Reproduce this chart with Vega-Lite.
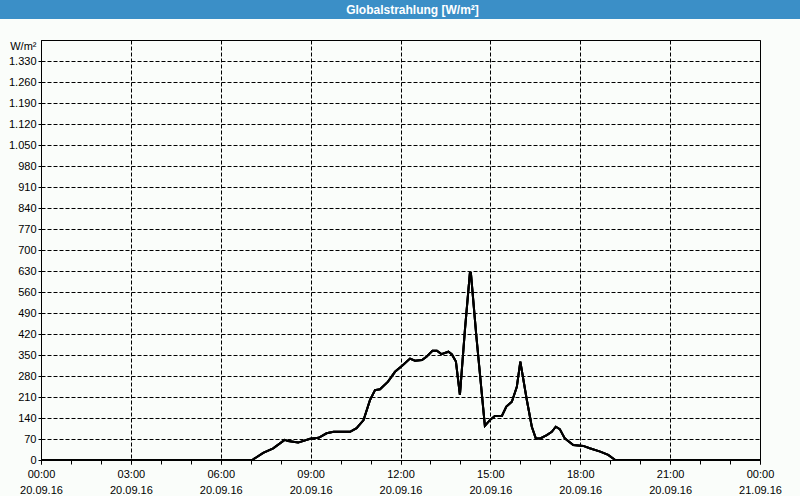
{
  "$schema": "https://vega.github.io/schema/vega-lite/v6.json",
  "background": "#fafdfa",
  "padding": 0,
  "spacing": {"row": 21, "column": 0},
  "columns": 2,
  "align": "each",
  "bounds": "flush",
  "config": {
    "font": "Liberation Sans",
    "view": {"stroke": null},
    "locale": {"number": {"decimal": ",", "thousands": ".", "grouping": [3], "currency": ["", " €"]}}
  },
  "datasets": {
    "strahlung": [
      {"zeit": "2016-09-20T00:00:00Z", "wert": 0},
      {"zeit": "2016-09-20T07:03:00Z", "wert": 0},
      {"zeit": "2016-09-20T07:25:00Z", "wert": 24},
      {"zeit": "2016-09-20T07:45:00Z", "wert": 39},
      {"zeit": "2016-09-20T08:08:00Z", "wert": 67},
      {"zeit": "2016-09-20T08:15:00Z", "wert": 63},
      {"zeit": "2016-09-20T08:35:00Z", "wert": 58},
      {"zeit": "2016-09-20T08:59:00Z", "wert": 71},
      {"zeit": "2016-09-20T09:16:00Z", "wert": 74},
      {"zeit": "2016-09-20T09:32:00Z", "wert": 89},
      {"zeit": "2016-09-20T09:46:00Z", "wert": 94},
      {"zeit": "2016-09-20T10:19:00Z", "wert": 94},
      {"zeit": "2016-09-20T10:32:00Z", "wert": 106},
      {"zeit": "2016-09-20T10:46:00Z", "wert": 133},
      {"zeit": "2016-09-20T10:59:00Z", "wert": 200},
      {"zeit": "2016-09-20T11:09:00Z", "wert": 233},
      {"zeit": "2016-09-20T11:19:00Z", "wert": 236},
      {"zeit": "2016-09-20T11:35:00Z", "wert": 261},
      {"zeit": "2016-09-20T11:49:00Z", "wert": 294},
      {"zeit": "2016-09-20T12:05:00Z", "wert": 317},
      {"zeit": "2016-09-20T12:19:00Z", "wert": 338},
      {"zeit": "2016-09-20T12:29:00Z", "wert": 331},
      {"zeit": "2016-09-20T12:43:00Z", "wert": 333},
      {"zeit": "2016-09-20T12:52:00Z", "wert": 344},
      {"zeit": "2016-09-20T13:04:00Z", "wert": 364},
      {"zeit": "2016-09-20T13:13:00Z", "wert": 364},
      {"zeit": "2016-09-20T13:22:00Z", "wert": 353},
      {"zeit": "2016-09-20T13:36:00Z", "wert": 361},
      {"zeit": "2016-09-20T13:43:00Z", "wert": 352},
      {"zeit": "2016-09-20T13:51:00Z", "wert": 328},
      {"zeit": "2016-09-20T13:59:00Z", "wert": 217},
      {"zeit": "2016-09-20T14:09:00Z", "wert": 433},
      {"zeit": "2016-09-20T14:19:00Z", "wert": 624},
      {"zeit": "2016-09-20T14:21:00Z", "wert": 623},
      {"zeit": "2016-09-20T14:32:00Z", "wert": 411},
      {"zeit": "2016-09-20T14:49:00Z", "wert": 114},
      {"zeit": "2016-09-20T14:59:00Z", "wert": 133},
      {"zeit": "2016-09-20T15:09:00Z", "wert": 147},
      {"zeit": "2016-09-20T15:23:00Z", "wert": 147},
      {"zeit": "2016-09-20T15:32:00Z", "wert": 178},
      {"zeit": "2016-09-20T15:43:00Z", "wert": 194},
      {"zeit": "2016-09-20T15:53:00Z", "wert": 244},
      {"zeit": "2016-09-20T16:00:00Z", "wert": 328},
      {"zeit": "2016-09-20T16:13:00Z", "wert": 200},
      {"zeit": "2016-09-20T16:23:00Z", "wert": 111},
      {"zeit": "2016-09-20T16:31:00Z", "wert": 72},
      {"zeit": "2016-09-20T16:40:00Z", "wert": 72},
      {"zeit": "2016-09-20T16:53:00Z", "wert": 83},
      {"zeit": "2016-09-20T17:03:00Z", "wert": 94},
      {"zeit": "2016-09-20T17:11:00Z", "wert": 111},
      {"zeit": "2016-09-20T17:19:00Z", "wert": 103},
      {"zeit": "2016-09-20T17:29:00Z", "wert": 72},
      {"zeit": "2016-09-20T17:46:00Z", "wert": 50},
      {"zeit": "2016-09-20T18:06:00Z", "wert": 47},
      {"zeit": "2016-09-20T18:19:00Z", "wert": 39},
      {"zeit": "2016-09-20T18:40:00Z", "wert": 28},
      {"zeit": "2016-09-20T18:56:00Z", "wert": 17},
      {"zeit": "2016-09-20T19:10:00Z", "wert": 0},
      {"zeit": "2016-09-21T00:00:00Z", "wert": 0}
    ],
    "titel": [{"text": "Globalstrahlung [W/m²]"}],
    "leer": []
  },
  "concat": [
    {
      "width": 41,
      "height": 19,
      "view": {"fill": "#3b8fc7", "stroke": null},
      "data": {"name": "leer"},
      "mark": {"type": "text"},
      "encoding": {}
    },
    {
      "width": 759,
      "height": 19,
      "view": {"fill": "#3b8fc7", "stroke": null},
      "data": {"name": "titel"},
      "mark": {"type": "text", "color": "white", "fontWeight": "bold", "fontSize": 12, "font": "Liberation Sans", "dx": -8, "baseline": "middle"},
      "encoding": {"text": {"field": "text"}}
    },
    {
      "width": 41,
      "height": 420,
      "data": {"name": "leer"},
      "mark": {"type": "text"},
      "encoding": {}
    },
    {
      "width": 719,
      "height": 420,
      "view": {"stroke": "black", "strokeWidth": 1},
      "data": {"name": "strahlung"},
      "encoding": {
        "y": {
          "field": "wert",
          "type": "quantitative",
          "scale": {"domain": [0, 1400], "nice": false},
          "axis": {
            "title": "W/m²",
            "titleAngle": 0,
            "titleAlign": "right",
            "titleBaseline": "middle",
            "titleX": -5,
            "titleY": 6,
            "titleFont": "Liberation Sans",
            "titleFontSize": 11,
            "titleFontWeight": "normal",
            "titleColor": "black",
            "values": [0, 70, 140, 210, 280, 350, 420, 490, 560, 630, 700, 770, 840, 910, 980, 1050, 1120, 1190, 1260, 1330],
            "format": ",.0f",
            "labelFont": "Liberation Sans",
            "labelFontSize": 11,
            "labelColor": "black",
            "labelPadding": 2,
            "labelOverlap": false,
            "tickSize": 3,
            "tickColor": "black",
            "domainColor": "black",
            "grid": true,
            "gridColor": "black",
            "gridDash": [4, 2]
          }
        }
      },
      "layer": [
        {
          "mark": {"type": "line", "color": "black", "strokeWidth": 2},
          "encoding": {
            "x": {
              "field": "zeit",
              "type": "temporal",
              "scale": {"type": "utc", "domain": [1474329600000, 1474416000000], "nice": false},
              "axis": {
                "orient": "bottom",
                "title": null,
                "values": [1474329600000, 1474340400000, 1474351200000, 1474362000000, 1474372800000, 1474383600000, 1474394400000, 1474405200000, 1474416000000],
                "format": "%H:%M",
                "labelOverlap": false,
                "labelFlush": false,
                "labelFont": "Liberation Sans",
                "labelFontSize": 11,
                "labelColor": "black",
                "labelPadding": 4,
                "labelBaseline": "top",
                "tickSize": 4,
                "tickColor": "black",
                "domainColor": "black",
                "grid": true,
                "gridColor": "black",
                "gridDash": [4, 2]
              }
            }
          }
        },
        {
          "mark": {"type": "line", "color": "black", "strokeWidth": 2},
          "encoding": {
            "x": {
              "field": "zeit",
              "type": "temporal",
              "scale": {"type": "utc", "domain": [1474329600000, 1474416000000], "nice": false},
              "axis": {
                "orient": "bottom",
                "title": null,
                "values": [1474329600000, 1474340400000, 1474351200000, 1474362000000, 1474372800000, 1474383600000, 1474394400000, 1474405200000, 1474416000000],
                "format": "%d.%m.%y",
                "labelOverlap": false,
                "labelFlush": false,
                "labelFont": "Liberation Sans",
                "labelFontSize": 11,
                "labelColor": "black",
                "labelPadding": 24,
                "labelBaseline": "top",
                "ticks": false,
                "tickSize": 0,
                "domain": false,
                "grid": false
              }
            }
          }
        },
        {
          "mark": {"type": "line", "color": "black", "strokeWidth": 2},
          "encoding": {
            "x": {
              "field": "zeit",
              "type": "temporal",
              "scale": {"type": "utc", "domain": [1474329600000, 1474416000000], "nice": false},
              "axis": {
                "orient": "bottom",
                "title": null,
                "values": [1474329600000, 1474333200000, 1474336800000, 1474340400000, 1474344000000, 1474347600000, 1474351200000, 1474354800000, 1474358400000, 1474362000000, 1474365600000, 1474369200000, 1474372800000, 1474376400000, 1474380000000, 1474383600000, 1474387200000, 1474390800000, 1474394400000, 1474398000000, 1474401600000, 1474405200000, 1474408800000, 1474412400000, 1474416000000],
                "labels": false,
                "tickSize": 4,
                "tickColor": "black",
                "domain": false,
                "grid": false
              }
            }
          }
        }
      ],
      "resolve": {"axis": {"x": "independent"}}
    }
  ]
}
